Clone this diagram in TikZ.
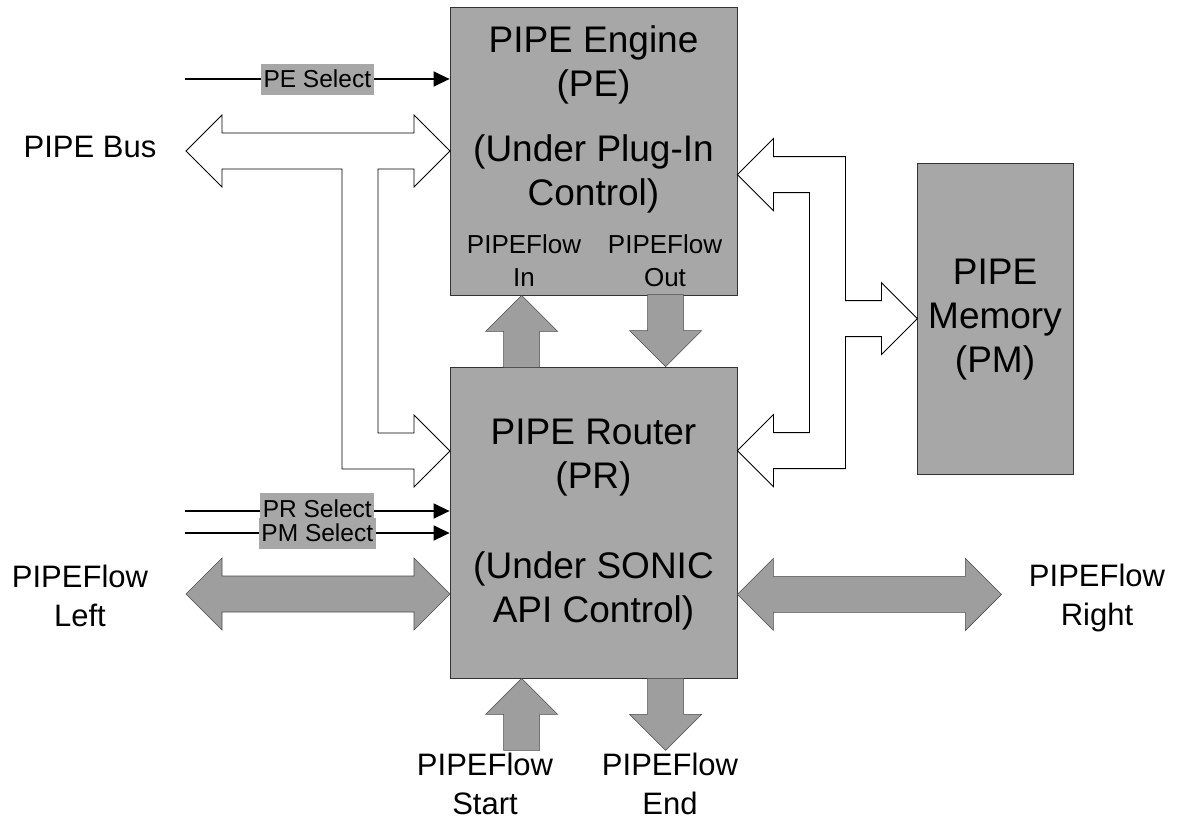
\documentclass[tikz,border=0pt]{standalone}
\usepackage{fontspec}
\setmainfont{Liberation Sans}
\usetikzlibrary{arrows.meta}
\definecolor{boxgrey}{gray}{0.655}
\definecolor{flowgrey}{gray}{0.62}

\begin{document}
\begin{tikzpicture}[x=1pt,y=-1pt,
		block/.style={rectangle,draw=black!80,line width=0.8pt,fill=boxgrey,inner sep=0pt},
		big text/.style={align=center,font=\fontsize{37}{44}\selectfont},
		ext text/.style={align=center,font=\fontsize{31}{39}\selectfont},
		port text/.style={align=center,font=\fontsize{26}{33}\selectfont},
		select/.style={fill=boxgrey,font=\fontsize{24.5}{28}\selectfont,inner xsep=2.5pt,inner ysep=7pt,text height=17pt,text depth=0pt},
		sig/.style={line width=1.5pt,-{Triangle[length=16pt,width=15pt]}},
		flow/.style={fill=flowgrey,draw=black!70,line width=0.6pt},
		bus/.style={fill=white,draw=black,line width=0.8pt}]
		\useasboundingbox (0,0) rectangle (1185,820);

		\node[block,minimum width=287pt,minimum height=288pt] (pe) at (593.5,151) {};
		\node[block,minimum width=287pt,minimum height=311pt] (pr) at (593.5,522.5) {};
		\node[block,minimum width=156pt,minimum height=311pt] (pm) at (995,318.5) {};

		\node[big text] (pe title) at (593.5,65) {PIPE Engine\\(PE)};
		\node[big text] (pe ctrl) at (593.5,174) {(Under Plug-In\\Control)};
		\node[port text] (pe in) at (524,261) {PIPEFlow\\In};
		\node[port text] (pe out) at (665,261) {PIPEFlow\\Out};
		\node[big text] (pr title) at (593.5,458) {PIPE Router\\(PR)};
		\node[big text] (pr ctrl) at (593.5,591) {(Under SONIC\\API Control)};
		\node[big text] (pm title) at (995,320) {PIPE\\Memory\\(PM)};

		\node[ext text] (bus label) at (90,146.5) {PIPE Bus};
		\node[ext text] (left label) at (80,596) {PIPEFlow\\Left};
		\node[ext text] (right label) at (1097,598) {PIPEFlow\\Right};
		\node[ext text] (start label) at (485,784) {PIPEFlow\\Start};
		\node[ext text] (end label) at (670,784) {PIPEFlow\\End};

		% select lines
		\coordinate (pe sel) at (185,79);
		\coordinate (pr sel) at (185,511);
		\coordinate (pm sel) at (185,533);
		\draw[sig] (pe sel) -- (pe.west |- pe sel) node[select,pos=0.5] {PE Select};
		\draw[sig] (pr sel) -- (pr.west |- pr sel) node[select,pos=0.5,yshift=2.5pt] {PR Select};
		\draw[sig] (pm sel) -- (pr.west |- pm sel) node[select,pos=0.5] {PM Select};

		% PIPE bus and memory bus
		\coordinate (bus tip) at (186,151);
		\path (pe.north east) ++(0,168) coordinate (mem tip);
		\draw[bus] (bus tip) -- ++(36,-36) -- ++(0,18) -- ++(192,0) -- ++(0,-18) -- ++(36,36)
			-- ++(-36,36) -- ++(0,-18) -- ++(-36,0) -- ++(0,264) -- ++(36,0) -- ++(0,-18)
			-- ++(36,36) -- ++(-36,36) -- ++(0,-18) -- ++(-72,0) -- ++(0,-300) -- ++(-120,0)
			-- ++(0,18) -- cycle;
		\draw[bus] (mem tip) -- ++(36,-36) -- ++(0,18) -- ++(72,0) -- ++(0,144) -- ++(36,0)
			-- ++(0,-18) -- ++(36,36) -- ++(-36,36) -- ++(0,-18) -- ++(-36,0) -- ++(0,132)
			-- ++(-72,0) -- ++(0,18) -- ++(-36,-36) -- ++(36,-36) -- ++(0,18) -- ++(36,0)
			-- ++(0,-240) -- ++(-36,0) -- ++(0,18) -- cycle;

		% PIPEFlow arrows
		\path (pe.south west) ++(72,0) coordinate (in tip);
		\path (pr.north west) ++(216,0) coordinate (out tip);
		\path (pr.south west) ++(72,0) coordinate (start tip);
		\path (pr.south west) ++(216,72) coordinate (end tip);
		\coordinate (left tip) at (186,594);
		\path (pr.south east) ++(0,-84) coordinate (right tip);
		\draw[flow] (in tip) -- ++(36,36) -- ++(-18,0) -- ++(0,36) -- ++(-36,0) -- ++(0,-36) -- ++(-18,0) -- cycle;
		\draw[flow] (start tip) -- ++(36,36) -- ++(-18,0) -- ++(0,36) -- ++(-36,0) -- ++(0,-36) -- ++(-18,0) -- cycle;
		\draw[flow] (out tip) -- ++(36,-36) -- ++(-18,0) -- ++(0,-36) -- ++(-36,0) -- ++(0,36) -- ++(-18,0) -- cycle;
		\draw[flow] (end tip) -- ++(36,-36) -- ++(-18,0) -- ++(0,-36) -- ++(-36,0) -- ++(0,36) -- ++(-18,0) -- cycle;
		\draw[flow] (left tip) -- ++(36,-36) -- ++(0,18) -- ++(192,0) -- ++(0,-18) -- ++(36,36)
			-- ++(-36,36) -- ++(0,-18) -- ++(-192,0) -- ++(0,18) -- cycle;
		\draw[flow] (right tip) -- ++(36,-36) -- ++(0,18) -- ++(192,0) -- ++(0,-18) -- ++(36,36)
			-- ++(-36,36) -- ++(0,-18) -- ++(-192,0) -- ++(0,18) -- cycle;
\end{tikzpicture}
\end{document}
